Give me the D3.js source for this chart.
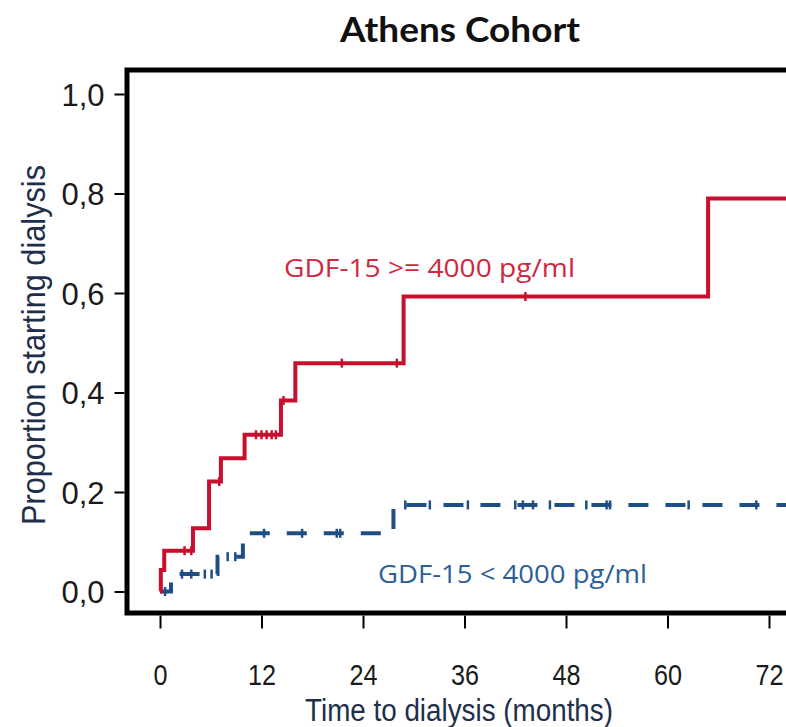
<!DOCTYPE html>
<html><head><meta charset="utf-8">
<script src="https://cdn.jsdelivr.net/npm/d3@7"></script>
<style>html,body{margin:0;padding:0;background:#fff;overflow:hidden}</style>
</head><body>
<svg id="chart" width="786" height="727"></svg>
<script>
// Kaplan–Meier style cumulative incidence of dialysis start, two GDF-15 groups
const xTicks = [0, 12, 24, 36, 48, 60, 72];
const yTicks = [0, 0.2, 0.4, 0.6, 0.8, 1.0];

const highLabel = "GDF-15 >= 4000 pg/ml";
const highTimes = [0.1, 0.5, 3.9, 5.8, 7.2, 10.0, 14.3, 16.0, 28.8, 64.8];
const highValues = [0.043, 0.082, 0.127, 0.221, 0.268, 0.315, 0.384, 0.459, 0.593, 0.790];
const highCensored = [2.9, 3.7, 7.0, 11.35, 12.0, 12.6, 13.2, 13.7, 14.6, 21.5, 28.0, 43.2];

const lowLabel = "GDF-15 < 4000 pg/ml";
const lowTimes = [1.3, 6.8, 9.8, 27.6];
const lowValues = [0.035, 0.070, 0.117, 0.174];
const lowCensored = [0.6, 2.6, 3.7, 5.3, 6.1, 8.0, 8.9, 12.3, 16.8, 20.9, 21.3, 29.0, 31.9,
  36.4, 42.0, 42.9, 44.1, 46.1, 50.4, 52.8, 53.2, 62.5, 70.5];

const RED = "#c8102e", BLUE = "#1f4e85";
const sans = "'Liberation Sans', Arial, sans-serif";
const labelFont = "'Open Sans', 'Noto Sans', sans-serif";

// squeeze a text horizontally to emulate a condensed face
function condense(sel, factor) {
  sel.each(function () {
    const w = this.getComputedTextLength();
    d3.select(this).attr("textLength", w * factor).attr("lengthAdjust", "spacingAndGlyphs");
  });
}
function fitWidth(sel, width) {
  sel.attr("textLength", width).attr("lengthAdjust", "spacingAndGlyphs");
}

const svg = d3.select("#chart");
const frame = {left: 127, top: 70, bottom: 613, right: 806};

const x = d3.scaleLinear().domain([0, 72]).range([160, 769]);
const y = d3.scaleLinear().domain([0, 1]).range([591.5, 94]);
const tEnd = x.invert(frame.right);

// title
svg.append("text").attr("x", 460).attr("y", 42).attr("text-anchor", "middle")
  .attr("font-family", "Lato, 'Liberation Sans', sans-serif").attr("font-weight", 700)
  .attr("font-size", 35).attr("fill", "#111").text("Athens Cohort")
  .call(fitWidth, 240);

// plot frame (its right edge lies outside the canvas)
svg.append("rect").attr("x", frame.left).attr("y", frame.top)
  .attr("width", frame.right - frame.left).attr("height", frame.bottom - frame.top)
  .attr("fill", "none").attr("stroke", "#000").attr("stroke-width", 5);

// axes
const yAxis = svg.append("g").attr("transform", `translate(${frame.left - 2.5},0)`)
  .call(d3.axisLeft(y).tickValues(yTicks).tickSize(10).tickPadding(10)
    .tickFormat(d => d3.format(".1f")(d).replace(".", ",")));
yAxis.select(".domain").remove();
yAxis.selectAll(".tick line").attr("stroke", "#000").attr("stroke-width", 2);
yAxis.selectAll(".tick text").attr("font-family", sans).attr("font-size", 31)
  .attr("fill", "#1a1a1a").attr("dy", "0.36em");

const xAxis = svg.append("g").attr("transform", `translate(0,${frame.bottom + 2.5})`)
  .call(d3.axisBottom(x).tickValues(xTicks).tickSize(13).tickPadding(35).tickFormat(d3.format("d")));
xAxis.select(".domain").remove();
xAxis.selectAll(".tick line").attr("stroke", "#000").attr("stroke-width", 2);
xAxis.selectAll(".tick text").attr("font-family", sans).attr("font-size", 30)
  .attr("fill", "#1a1a1a").call(condense, 0.84);

// axis titles
svg.append("text").attr("x", 459).attr("y", 721).attr("text-anchor", "middle")
  .attr("font-family", sans).attr("font-size", 31).attr("fill", "#1f2f4a")
  .text("Time to dialysis (months)").call(fitWidth, 308);
svg.append("text").attr("transform", "translate(45,345) rotate(-90)").attr("text-anchor", "middle")
  .attr("font-family", sans).attr("font-size", 33).attr("fill", "#1f2f4a")
  .text("Proportion starting dialysis").call(fitWidth, 360);

// step curves
function stepPoints(times, values) {
  const pts = [[0, 0]];
  times.forEach((t, i) => pts.push([t, values[i]]));
  pts.push([tEnd, values[values.length - 1]]);
  return pts;
}
function valueAt(times, values, t) {
  const i = d3.bisectRight(times, t);
  return i === 0 ? 0 : values[i - 1];
}
const line = d3.line().x(d => x(d[0])).y(d => y(d[1])).curve(d3.curveStepAfter);

const plot = svg.append("g");

plot.append("path").datum(stepPoints(lowTimes, lowValues))
  .attr("d", line).attr("fill", "none").attr("stroke", BLUE).attr("stroke-width", 4)
  .attr("stroke-dasharray", "20,17");
plot.append("g").selectAll("line").data(lowCensored).join("line")
  .attr("x1", d => x(d)).attr("x2", d => x(d))
  .attr("y1", d => y(valueAt(lowTimes, lowValues, d)) - 4.5)
  .attr("y2", d => y(valueAt(lowTimes, lowValues, d)) + 4.5)
  .attr("stroke", BLUE).attr("stroke-width", 2.5);

plot.append("path").datum(stepPoints(highTimes, highValues))
  .attr("d", line).attr("fill", "none").attr("stroke", RED).attr("stroke-width", 4);
plot.append("g").selectAll("line").data(highCensored).join("line")
  .attr("x1", d => x(d)).attr("x2", d => x(d))
  .attr("y1", d => y(valueAt(highTimes, highValues, d)) - 4.5)
  .attr("y2", d => y(valueAt(highTimes, highValues, d)) + 4.5)
  .attr("stroke", RED).attr("stroke-width", 2.5);

// group labels
svg.append("text").attr("x", 284).attr("y", 277)
  .attr("font-family", labelFont).attr("font-size", 26)
  .attr("fill", "#d0283f").text(highLabel).call(fitWidth, 291);
svg.append("text").attr("x", 378).attr("y", 583)
  .attr("font-family", labelFont).attr("font-size", 26)
  .attr("fill", "#2c5f98").text(lowLabel).call(fitWidth, 269);
</script>
</body></html>
